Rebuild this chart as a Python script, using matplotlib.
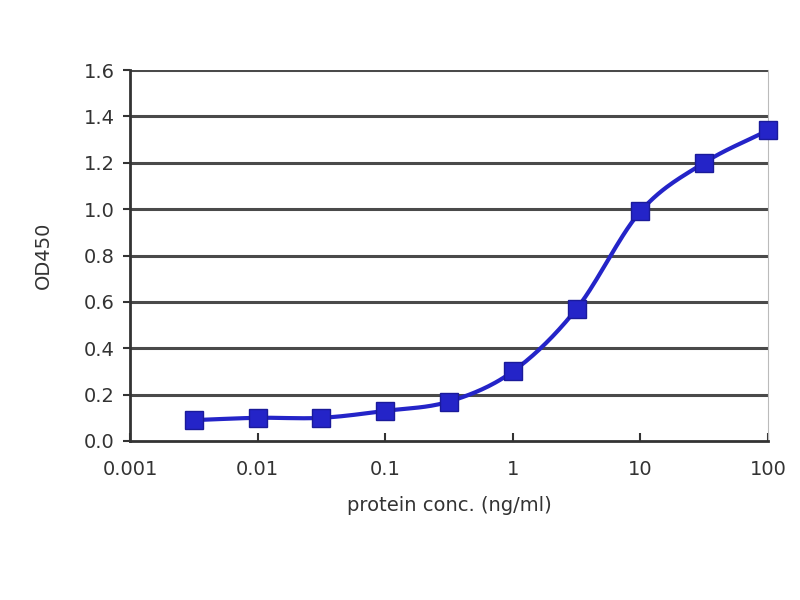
import numpy as np
import matplotlib
matplotlib.use("Agg")
import matplotlib.pyplot as plt

conc = [0.00316, 0.01, 0.0316, 0.1, 0.316, 1, 3.16, 10, 31.6, 100]
od450 = [0.09, 0.10, 0.10, 0.13, 0.17, 0.30, 0.57, 0.99, 1.20, 1.34]
xticks = [0.001, 0.01, 0.1, 1, 10, 100]
xticklabels = ["0.001", "0.01", "0.1", "1", "10", "100"]
yticks = [0.0, 0.2, 0.4, 0.6, 0.8, 1.0, 1.2, 1.4, 1.6]

BLUE = "#2424c8"


def smooth(x, y, n=30):
    # catmull-rom through the points, in log10(x) space
    lx = np.log10(x)
    y = np.asarray(y, dtype=float)
    px = np.concatenate([[2 * lx[0] - lx[1]], lx, [2 * lx[-1] - lx[-2]]])
    py = np.concatenate([[2 * y[0] - y[1]], y, [2 * y[-1] - y[-2]]])
    xs, ys = [], []
    t = np.linspace(0, 1, n)
    for i in range(1, len(px) - 2):
        for p, out in ((px, xs), (py, ys)):
            p0, p1, p2, p3 = p[i - 1], p[i], p[i + 1], p[i + 2]
            out.extend(0.5 * (2 * p1 + (-p0 + p2) * t
                              + (2 * p0 - 5 * p1 + 4 * p2 - p3) * t ** 2
                              + (-p0 + 3 * p1 - 3 * p2 + p3) * t ** 3))
    return 10 ** np.array(xs), np.array(ys)


fig = plt.figure(figsize=(8, 6), dpi=100)
ax = fig.add_axes([0.1625, 0.265, 0.7975, 0.6183])

for v in yticks[1:]:
    ax.axhline(v, color="#4a4a4a", lw=2.2, zorder=1)

sx, sy = smooth(conc, od450)
ax.plot(sx, sy, color=BLUE, lw=3, zorder=2, clip_on=False)
ax.plot(conc, od450, ls="none", marker="s", ms=13, color=BLUE,
        mec="#1a1a9a", mew=1, zorder=3, clip_on=False)

ax.set_xscale("log")
ax.set_xlim(0.001, 100)
ax.set_ylim(0, 1.6)
ax.set_xticks(xticks)
ax.set_xticklabels(xticklabels)
ax.minorticks_off()
ax.set_yticks(yticks)
ax.set_yticklabels(["%.1f" % v for v in yticks])

ax.spines["top"].set_visible(False)
ax.spines["right"].set_color("#bbbbbb")
ax.spines["left"].set_color("#333333")
ax.spines["bottom"].set_color("#333333")
ax.spines["left"].set_linewidth(2)
ax.spines["bottom"].set_linewidth(2)

ax.tick_params(axis="x", direction="in", length=6, width=1.5, color="#333333",
               labelsize=14, pad=14, labelcolor="#333333")
ax.tick_params(axis="y", direction="out", length=5, width=1.5, color="#333333",
               labelsize=14, pad=6, labelcolor="#333333")

ax.set_xlabel("protein conc. (ng/ml)", fontsize=14, color="#333333", labelpad=12)
ax.set_ylabel("OD450", fontsize=14, color="#333333", labelpad=22)

plt.savefig("out.png")
